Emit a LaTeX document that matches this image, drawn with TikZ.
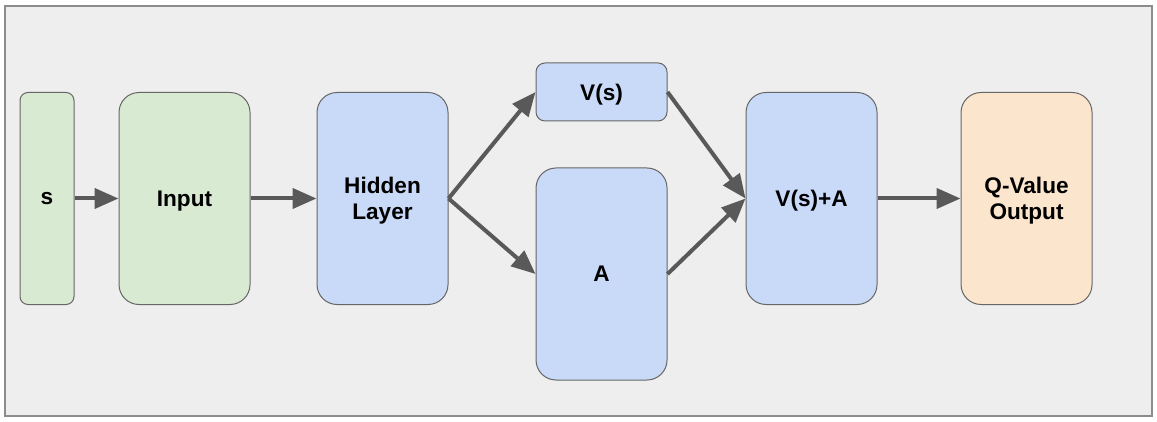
\documentclass[tikz,border=0pt]{standalone}
\usepackage{fontspec}
\setmainfont{Liberation Sans}
\usepackage{xcolor}
\usetikzlibrary{positioning, arrows.meta}

\definecolor{panelbg}{HTML}{EEEEEE}
\definecolor{panelline}{HTML}{8C8C8C}
\definecolor{boxline}{HTML}{666666}
\definecolor{inputgreen}{HTML}{D9EAD3}
\definecolor{layerblue}{HTML}{C9DAF8}
\definecolor{outorange}{HTML}{FCE5CD}
\definecolor{arrowgray}{HTML}{595959}

\tikzset{
    block/.style={draw=boxline, line width=0.5bp, align=center, inner sep=0pt,
        text depth=0pt, minimum width=65.5bp, minimum height=106bp,
        rounded corners=10bp},
    flow/.style={color=arrowgray, line width=2bp,
        -{Triangle[length=12bp, width=10bp]}}
}

\begin{document}
\begin{tikzpicture}[x=0.5bp, y=-0.5bp,
        every node/.style={font=\bfseries\fontsize{11.3bp}{13bp}\selectfont}]
        \useasboundingbox (0,0) rectangle (1157,422);
        \draw[fill=panelbg, draw=panelline, line width=0.6bp] (5,6) rectangle (1152,416);

        \node[block, fill=inputgreen, minimum width=27bp, rounded corners=4bp,
            anchor=west] (s) at (19.5,198.5) {s};
        \node[block, fill=inputgreen] (input) [right=22bp of s] {Input};
        \node[block, fill=layerblue] (hidden) [right=33bp of input] {Hidden\\Layer};

        \node[block, fill=layerblue] (a) [right=43.5bp of hidden, yshift=-37.75bp] {A};
        \node[block, fill=layerblue, minimum height=29bp, rounded corners=4.5bp]
            (vs) [above=23bp of a] {V(s)};

        \node[block, fill=layerblue] (sum) [right=148.5bp of hidden] {V(s)+A};
        \node[block, fill=outorange] (q) [right=41.5bp of sum] {Q-Value\\Output};

        \path[flow]
        (s) edge (input)
        (input) edge (hidden)
        (hidden.east) edge (vs.west)
        (hidden.east) edge (a.west)
        (vs.east) edge (sum.west)
        (a.east) edge (sum.west)
        (sum) edge (q);

    \end{tikzpicture}
\end{document}
